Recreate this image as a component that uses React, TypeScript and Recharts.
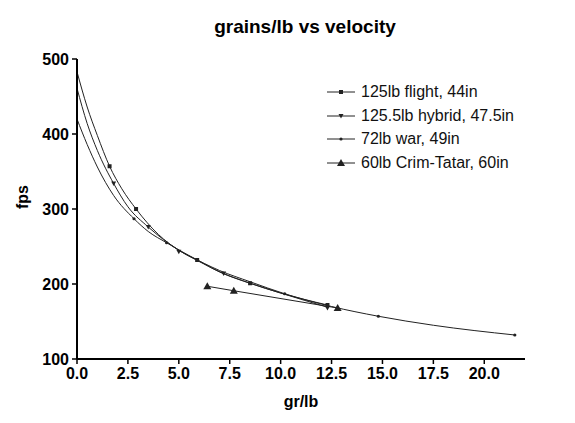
import React from "react";
import {
  ComposedChart,
  Line,
  Scatter,
  XAxis,
  YAxis,
} from "recharts";

const FONT = "'Liberation Sans', Arial, Helvetica, sans-serif";

// fitted curves
const flightCurveX = [0, 0.5, 1, 1.6, 2.2, 2.9, 4, 5, 5.9, 7, 8.5, 10, 12.3];
const flightCurveY = [483, 436, 398, 357, 327, 300, 266, 245, 232, 216, 201, 188, 172];
const hybridCurveX = [0, 0.5, 1, 1.8, 2.5, 3.5, 5, 6, 7.2, 8.5, 10, 12.3];
const hybridCurveY = [461, 414, 378, 334, 303, 276, 245, 230, 214, 201, 188, 169];
const warCurveX = [0, 0.5, 1, 1.8, 2.8, 3.5, 4.4, 5.5, 7, 8.5, 10.2, 12.5, 14.8, 17.5, 21.5];
const warCurveY = [420, 386, 356, 318, 287, 270, 255, 238, 218, 203, 187, 170, 157, 145, 132];

// measured points
const flightX = [1.6, 2.9, 5.9, 8.5, 12.3];
const flightY = [357, 300, 232, 201, 172];
const hybridX = [1.8, 3.5, 5.0, 7.2, 12.3];
const hybridY = [334, 276, 243, 214, 168];
const warX = [2.8, 4.4, 10.2, 14.8, 21.5];
const warY = [287, 255, 187, 157, 132];
const crimX = [6.4, 7.7, 12.8];
const crimY = [197, 191, 168];

const xTicks = [0, 2.5, 5, 7.5, 10, 12.5, 15, 17.5, 20];
const yTicks = [100, 200, 300, 400, 500];

const seriesNames = [
  "125lb flight, 44in",
  "125.5lb hybrid, 47.5in",
  "72lb war, 49in",
  "60lb Crim-Tatar, 60in",
];

const zip = (xs: number[], ys: number[]) => xs.map((x, i) => ({ x, y: ys[i] }));

const INK = "#222";

function Marker({ kind, cx, cy }: { kind: number; cx: number; cy: number }) {
  if (kind === 0) return <rect x={cx - 2} y={cy - 2} width={4} height={4} fill={INK} />;
  if (kind === 1)
    return <path d={`M${cx - 2.5},${cy - 2} L${cx + 2.5},${cy - 2} L${cx},${cy + 2.5} Z`} fill={INK} />;
  if (kind === 2) return <circle cx={cx} cy={cy} r={1.6} fill={INK} />;
  return <path d={`M${cx - 4},${cy + 3} L${cx + 4},${cy + 3} L${cx},${cy - 4} Z`} fill={INK} />;
}

const shapeFor = (kind: number) => (props: any) => (
  <Marker kind={kind} cx={props.cx} cy={props.cy} />
);

function LegendBox() {
  return (
    <div
      style={{
        position: "absolute",
        left: 319,
        top: 71,
        fontFamily: FONT,
        fontSize: 16,
        color: "#111",
      }}
    >
      {seriesNames.map((name, i) => (
        <div key={name} style={{ display: "flex", alignItems: "center", height: i === 0 ? 25 : 23.5 }}>
          <svg width={34} height={12}>
            <line x1={0} y1={6} x2={28} y2={6} stroke={INK} strokeWidth={1} />
            <Marker kind={i} cx={14} cy={6} />
          </svg>
          <span>{name}</span>
        </div>
      ))}
    </div>
  );
}

const tickStyle = { fill: "#000", fontSize: 16, fontWeight: "bold", fontFamily: FONT };

export default function App() {
  return (
    <div style={{ position: "relative", width: 567, height: 415, background: "#fff" }}>
      <div
        style={{
          position: "absolute",
          left: 0,
          width: 594,
          top: 8,
          textAlign: "center",
          fontFamily: FONT,
          fontWeight: "bold",
          fontSize: 19,
          color: "#000",
        }}
      >
        grains/lb vs velocity
      </div>
      <ComposedChart
        width={567}
        height={415}
        margin={{ top: 51, right: 50, left: 0, bottom: 14 }}
      >
        <XAxis
          type="number"
          dataKey="x"
          domain={[0, 22]}
          ticks={xTicks}
          tickFormatter={(v: number) => v.toFixed(1)}
          allowDataOverflow
          height={50}
          axisLine={{ stroke: "#000", strokeWidth: 2 }}
          tickLine={{ stroke: "#000", strokeWidth: 1.5 }}
          tickSize={5}
          tickMargin={4}
          tick={tickStyle}
          label={{
            value: "gr/lb",
            position: "insideBottom",
            offset: 2,
            fill: "#000",
            fontSize: 16,
            fontWeight: "bold",
            fontFamily: FONT,
          }}
        />
        <YAxis
          type="number"
          dataKey="y"
          domain={[100, 500]}
          ticks={yTicks}
          allowDataOverflow
          width={69}
          axisLine={{ stroke: "#000", strokeWidth: 2 }}
          tickLine={{ stroke: "#000", strokeWidth: 1.5 }}
          tickSize={5}
          tickMargin={3}
          tick={tickStyle}
          label={{
            value: "fps",
            angle: -90,
            position: "insideLeft",
            offset: 14,
            fill: "#000",
            fontSize: 16,
            fontWeight: "bold",
            fontFamily: FONT,
          }}
        />
        <Line data={zip(flightCurveX, flightCurveY)} dataKey="y" type="monotone" stroke={INK} strokeWidth={1} dot={false} isAnimationActive={false} />
        <Line data={zip(hybridCurveX, hybridCurveY)} dataKey="y" type="monotone" stroke={INK} strokeWidth={1} dot={false} isAnimationActive={false} />
        <Line data={zip(warCurveX, warCurveY)} dataKey="y" type="monotone" stroke={INK} strokeWidth={1} dot={false} isAnimationActive={false} />
        <Line data={zip(crimX, crimY)} dataKey="y" type="linear" stroke={INK} strokeWidth={1} dot={false} isAnimationActive={false} />
        <Scatter data={zip(flightX, flightY)} dataKey="y" shape={shapeFor(0)} isAnimationActive={false} />
        <Scatter data={zip(hybridX, hybridY)} dataKey="y" shape={shapeFor(1)} isAnimationActive={false} />
        <Scatter data={zip(warX, warY)} dataKey="y" shape={shapeFor(2)} isAnimationActive={false} />
        <Scatter data={zip(crimX, crimY)} dataKey="y" shape={shapeFor(3)} isAnimationActive={false} />
      </ComposedChart>
      <LegendBox />
    </div>
  );
}
